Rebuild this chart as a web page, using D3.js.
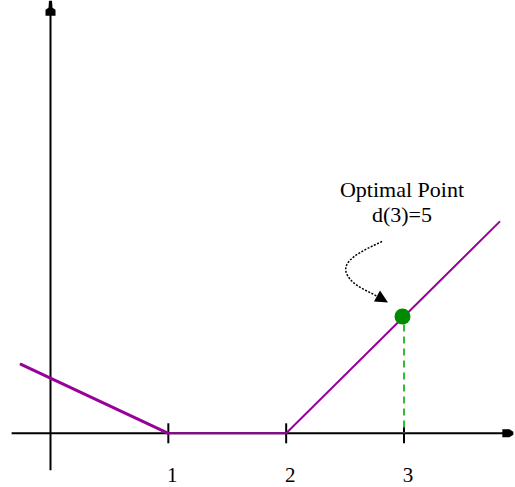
<!DOCTYPE html>
<html>
<head>
<meta charset="utf-8">
<script src="https://cdn.jsdelivr.net/npm/d3@7"></script>
<style>
  html, body { margin: 0; padding: 0; background: #fff; }
  svg { display: block; }
  text { font-family: "Liberation Serif", "DejaVu Serif", serif; fill: #000; }
</style>
</head>
<body>
<svg id="chart" width="515" height="487"></svg>
<script>
// Piecewise-linear cost function d(x)
const costX = [-0.25, 1, 2, 3.81];
const costY = [2.95, 0, 0, 9.05];
const segWidths = [3, 2, 2];

// Axis ticks
const xTicks = [1, 2, 3];
const xTickLabels = ["1", "2", "3"];

// Optimal point
const optX = 3;
const optY = 5;
const annotLines = ["Optimal Point", "d(3)=5"];

const svg = d3.select("#chart");

const x = d3.scaleLinear().domain([0, 3]).range([50.5, 404]);
const y = d3.scaleLinear().domain([0, 5]).range([433.3, 316.5]);

// Axes
const axisX0 = -0.33, axisX1 = 3.86;
const axisY0 = -1.58, axisY1 = 18.0;

svg.append("line")
  .attr("x1", x(axisX0)).attr("x2", x(axisX1))
  .attr("y1", y(0)).attr("y2", y(0))
  .attr("stroke", "#000").attr("stroke-width", 2);

svg.append("line")
  .attr("x1", x(0)).attr("x2", x(0))
  .attr("y1", y(axisY0)).attr("y2", y(axisY1))
  .attr("stroke", "#000").attr("stroke-width", 2);

// Arrowheads at the axis ends
const ax = x(0), ay = y(axisY1);
svg.append("path")
  .attr("d", `M${ax - 5},${ay + 3} L${ax + 5},${ay + 3} L${ax + 5},${ay - 3} L${ax + 2},${ay - 5} L${ax + 1.5},${ay - 12} L${ax - 1.5},${ay - 12} L${ax - 2},${ay - 5} L${ax - 5},${ay - 3} Z`)
  .attr("fill", "#000");

const bx = x(axisX1), by = y(0);
svg.append("path")
  .attr("d", `M${bx - 3},${by - 4} L${bx + 4},${by - 4} L${bx + 8},${by - 1.5} L${bx + 8},${by + 1.5} L${bx + 4},${by + 4} L${bx - 3},${by + 4} Z`)
  .attr("fill", "#000");

// Tick marks and labels
svg.selectAll("line.tick")
  .data(xTicks)
  .join("line")
  .attr("class", "tick")
  .attr("x1", d => x(d)).attr("x2", d => x(d))
  .attr("y1", y(0) - 10).attr("y2", y(0) + 10)
  .attr("stroke", "#000").attr("stroke-width", 2);

svg.selectAll("text.ticklabel")
  .data(xTicks)
  .join("text")
  .attr("class", "ticklabel")
  .attr("x", d => x(d) + 4)
  .attr("y", 482)
  .attr("text-anchor", "middle")
  .attr("font-size", 21)
  .text((d, i) => xTickLabels[i]);

// Cost function segments
const pts = costX.map((v, i) => [v, costY[i]]);
const segs = d3.pairs(pts);
svg.selectAll("line.seg")
  .data(segs)
  .join("line")
  .attr("class", "seg")
  .attr("x1", d => x(d[0][0])).attr("y1", d => y(d[0][1]))
  .attr("x2", d => x(d[1][0])).attr("y2", d => y(d[1][1]))
  .attr("stroke", "#990099")
  .attr("stroke-width", (d, i) => segWidths[i])
  .attr("stroke-linecap", "round");

// Dashed drop line from the optimal point to the axis
svg.append("line")
  .attr("x1", x(optX)).attr("x2", x(optX))
  .attr("y1", y(optY) + 8).attr("y2", y(0))
  .attr("stroke", "#33bb33").attr("stroke-width", 2)
  .attr("stroke-dasharray", "7,5");

// Optimal point marker
svg.append("circle")
  .attr("cx", x(optX) - 1.5).attr("cy", y(optY))
  .attr("r", 8)
  .attr("fill", "#008a00");

// Annotation text
svg.selectAll("text.annot")
  .data(annotLines)
  .join("text")
  .attr("class", "annot")
  .attr("x", x(optX) - 2)
  .attr("y", (d, i) => 197 + i * 25)
  .attr("text-anchor", "middle")
  .attr("font-size", 22)
  .text(d => d);

// Curved pointer to the optimal point
const tipX = x(optX) - 16, tipY = y(optY) - 14;
svg.append("path")
  .attr("d", `M${tipX - 6},${tipY - 61} C${tipX - 25},${tipY - 52} ${tipX - 48},${tipY - 42} ${tipX - 41},${tipY - 28} C${tipX - 35},${tipY - 16} ${tipX - 20},${tipY - 12} ${tipX - 9},${tipY - 5}`)
  .attr("fill", "none")
  .attr("stroke", "#000")
  .attr("stroke-width", 1.5)
  .attr("stroke-dasharray", "2,1.5");

svg.append("path")
  .attr("d", `M${tipX},${tipY} L${tipX - 14},${tipY - 1} L${tipX - 8},${tipY - 12} Z`)
  .attr("fill", "#000");
</script>
</body>
</html>
